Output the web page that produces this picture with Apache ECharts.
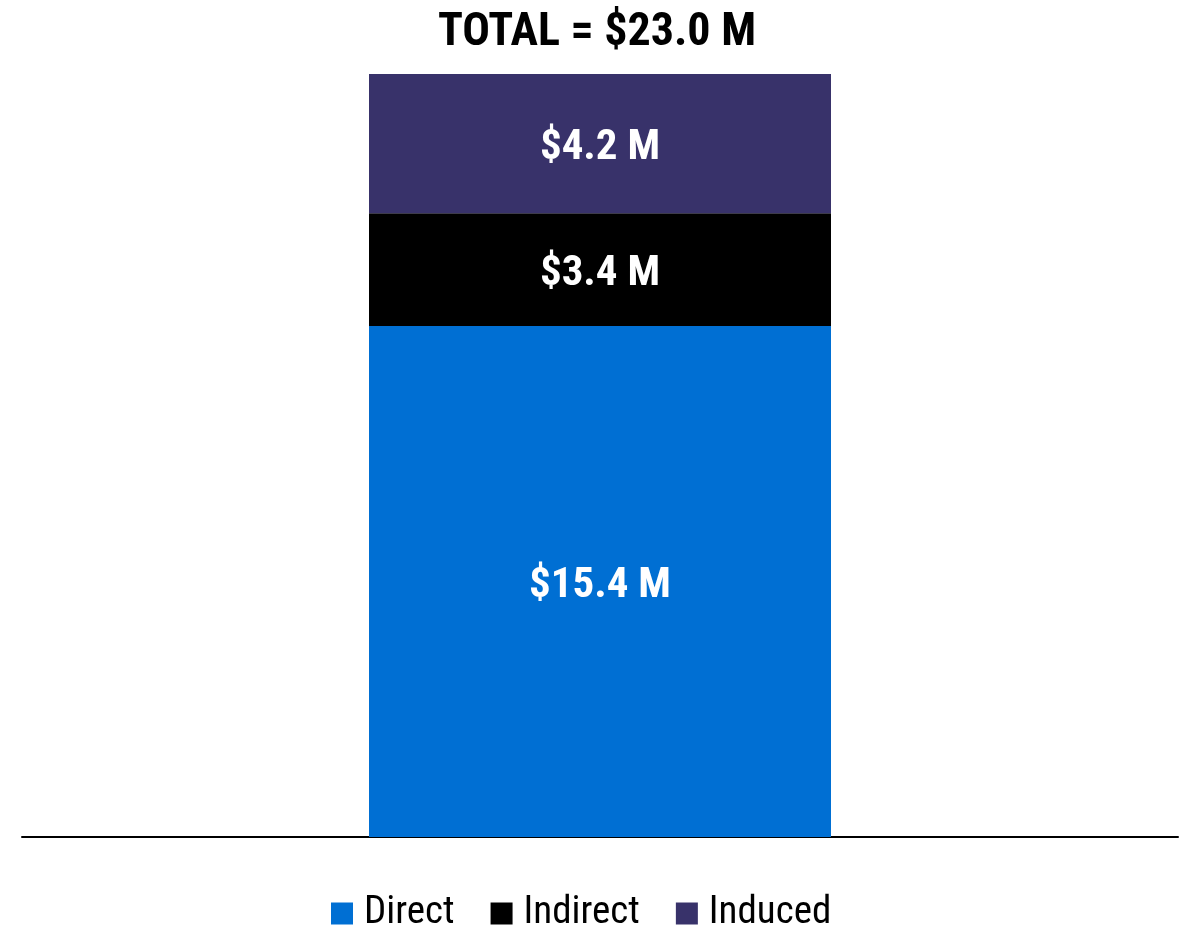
<!DOCTYPE html>
<html>
<head>
<meta charset="utf-8">
<script src="https://cdn.jsdelivr.net/npm/echarts@6/dist/echarts.min.js"></script>
<style>
  html, body { margin: 0; padding: 0; background: #fff; }
  #main { width: 1194px; height: 927px; }
</style>
</head>
<body>
<div id="main"></div>
<script>
const categories = ["Total"];
const seriesNames = ["Direct", "Indirect", "Induced"];
const directValues = [15.4];
const indirectValues = [3.4];
const inducedValues = [4.2];
const colors = ["#006FD3", "#000000", "#38326A"];

const narrow = "'Liberation Sans Narrow', 'Arial Narrow', 'Roboto Condensed', sans-serif";

// total for the headline, from the three parts
const total = directValues[0] + indirectValues[0] + inducedValues[0];

var myChart = echarts.init(document.getElementById("main"));

function makeSeries(name, values, color) {
  return {
    name: name,
    type: "bar",
    stack: "all",
    data: values,
    barWidth: 462,
    itemStyle: { color: color },
    label: {
      show: true,
      position: "inside",
      offset: [0, 5],
      color: "#fff",
      fontFamily: narrow,
      fontWeight: "bold",
      fontSize: 43,
      formatter: (p) => "$" + p.value.toFixed(1) + " M"
    }
  };
}

myChart.setOption({
  animation: false,
  title: {
    text: "TOTAL = $" + total.toFixed(1) + " M",
    left: "center",
    top: 5,
    textStyle: { fontFamily: narrow, fontWeight: "bold", fontSize: 46, color: "#000" }
  },
  legend: {
    bottom: -11,
    left: 326,
    itemWidth: 22,
    itemHeight: 22,
    itemGap: 36,
    icon: "rect",
    textStyle: { fontFamily: narrow, fontSize: 39, color: "#000", padding: [0, 0, 0, 6] },
    data: seriesNames
  },
  grid: { left: 22, right: 16, top: 74, bottom: 90 },
  xAxis: {
    type: "category",
    data: categories,
    axisLine: { lineStyle: { color: "#000", width: 2 } },
    axisTick: { show: false },
    axisLabel: { show: false }
  },
  yAxis: {
    type: "value",
    min: 0,
    max: total,
    show: false,
    splitLine: { show: false }
  },
  series: [
    makeSeries(seriesNames[0], directValues, colors[0]),
    makeSeries(seriesNames[1], indirectValues, colors[1]),
    makeSeries(seriesNames[2], inducedValues, colors[2])
  ]
});
</script>
</body>
</html>
